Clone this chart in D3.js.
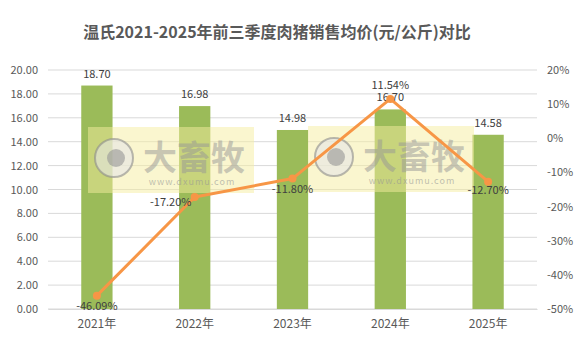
<!DOCTYPE html>
<html>
<head>
<meta charset="utf-8">
<script src="https://cdn.jsdelivr.net/npm/d3@7"></script>
<style>
  body { margin: 0; background: #fff; }
  text { font-family: "Noto Sans CJK SC", "Noto Sans", sans-serif; }
</style>
</head>
<body>
<div id="chart"></div>
<script>
// chart values
const years = ['2021年', '2022年', '2023年', '2024年', '2025年'];
const prices = [18.70, 16.98, 14.98, 16.70, 14.58];
const changes = [-46.09, -17.20, -11.80, 11.54, -12.70];
const leftTicks = [0, 2, 4, 6, 8, 10, 12, 14, 16, 18, 20];
const rightTicks = [-50, -40, -30, -20, -10, 0, 10, 20];

const W = 577, H = 342;
const margin = { top: 70, right: 40, bottom: 33, left: 48 };
const width = W - margin.left - margin.right;
const height = H - margin.top - margin.bottom;

// plain hyphen instead of unicode minus
const f2 = v => d3.format('.2f')(v).replace('−', '-');

const svg = d3.select('#chart').append('svg')
  .attr('width', W).attr('height', H);

// title
svg.append('text')
  .attr('x', 277).attr('y', 38)
  .attr('text-anchor', 'middle')
  .style('font-size', '16px').style('font-weight', 'bold')
  .attr('fill', '#595959')
  .text('温氏2021-2025年前三季度肉猪销售均价(元/公斤)对比');

const g = svg.append('g').attr('transform', `translate(${margin.left},${margin.top})`);

const x = d3.scaleBand().domain(years).range([0, width]).paddingInner(0.68).paddingOuter(0.34);
const y = d3.scaleLinear().domain([0, 20]).range([height, 0]);
const y2 = d3.scaleLinear().domain([-50, 20]).range([height, 0]);

// gridlines
g.append('g').selectAll('line').data(leftTicks).enter().append('line')
  .attr('x1', 0).attr('x2', width)
  .attr('y1', d => y(d)).attr('y2', d => y(d))
  .attr('stroke', '#d9d9d9').attr('stroke-width', 1);

// left axis
const yAxis = g.append('g').call(d3.axisLeft(y).tickValues(leftTicks).tickFormat(f2).tickSize(0).tickPadding(10));
yAxis.select('.domain').remove();
yAxis.selectAll('text').style('font-size', '11px').attr('fill', '#595959');

// right axis
const yAxis2 = g.append('g').attr('transform', `translate(${width},0)`)
  .call(d3.axisRight(y2).tickValues(rightTicks).tickFormat(d => d + '%').tickSize(0).tickPadding(10));
yAxis2.select('.domain').remove();
yAxis2.selectAll('text').style('font-size', '11px').attr('fill', '#595959');

// x axis
const xAxis = g.append('g').attr('transform', `translate(0,${height})`)
  .call(d3.axisBottom(x).tickSize(0).tickPadding(10));
xAxis.select('.domain').attr('stroke', '#d9d9d9');
xAxis.selectAll('text').style('font-size', '12px').attr('fill', '#595959');

// bars
g.selectAll('.bar').data(prices).enter().append('rect')
  .attr('x', (d, i) => x(years[i]))
  .attr('y', d => y(d))
  .attr('width', x.bandwidth())
  .attr('height', d => height - y(d))
  .attr('fill', '#9bbb59');

// watermark boxes
const marks = [[40, 57], [260, 56]];
marks.forEach(([mx, my]) => {
  const wm = g.append('g').attr('transform', `translate(${mx},${my})`);
  wm.append('rect').attr('width', 166).attr('height', 66)
    .attr('fill', 'rgba(245,238,160,0.5)');
  wm.append('circle').attr('cx', 26).attr('cy', 31).attr('r', 19)
    .attr('fill', 'rgba(230,230,230,0.6)').attr('stroke', 'rgba(140,140,140,0.6)').attr('stroke-width', 2);
  wm.append('circle').attr('cx', 28).attr('cy', 31).attr('r', 9)
    .attr('fill', 'rgba(150,150,150,0.6)');
  wm.append('text').attr('x', 106).attr('y', 43).attr('text-anchor', 'middle')
    .style('font-size', '34px').style('font-weight', 'bold')
    .attr('fill', 'rgba(150,150,150,0.5)').text('大畜牧');
  wm.append('text').attr('x', 104).attr('y', 58).attr('text-anchor', 'middle')
    .style('font-size', '9px').style('letter-spacing', '1px')
    .attr('fill', 'rgba(150,150,150,0.6)').text('www.dxumu.com');
});

// bar labels
g.selectAll('.blabel').data(prices).enter().append('text')
  .attr('x', (d, i) => x(years[i]) + x.bandwidth() / 2)
  .attr('y', d => y(d) - 8)
  .attr('text-anchor', 'middle')
  .style('font-size', '11px').attr('fill', '#404040')
  .text(d => f2(d));

// line
const cx = i => x(years[i]) + x.bandwidth() / 2;
const line = d3.line().x((d, i) => cx(i)).y(d => y2(d));
g.append('path').datum(changes)
  .attr('d', line).attr('fill', 'none')
  .attr('stroke', '#f79646').attr('stroke-width', 3).attr('stroke-linejoin', 'round');
g.selectAll('.pt').data(changes).enter().append('circle')
  .attr('cx', (d, i) => cx(i)).attr('cy', d => y2(d)).attr('r', 4)
  .attr('fill', '#f79646');

// line labels
const offs = [[0, 14], [-24, 9], [0, 14], [0, -10], [0, 12]];
g.selectAll('.llabel').data(changes).enter().append('text')
  .attr('x', (d, i) => cx(i) + offs[i][0])
  .attr('y', (d, i) => y2(d) + offs[i][1])
  .attr('text-anchor', 'middle')
  .style('font-size', '11px').attr('fill', '#404040')
  .text(d => f2(d) + '%');
</script>
</body>
</html>
